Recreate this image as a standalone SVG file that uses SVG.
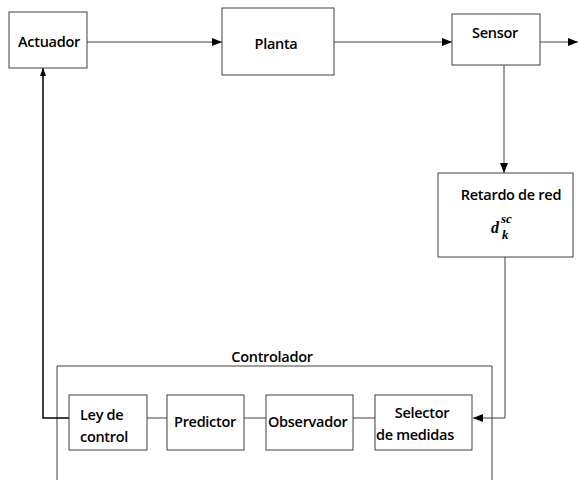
<svg xmlns="http://www.w3.org/2000/svg" width="579" height="480" viewBox="0 0 579 480">
<defs>
<marker id="ah" markerWidth="10" markerHeight="8" refX="10" refY="4" orient="auto" markerUnits="userSpaceOnUse"><path d="M0,0 L10,4 L0,8 Z" fill="#000"/></marker>
<marker id="ahb" markerWidth="8" markerHeight="14" refX="8" refY="4" orient="auto" markerUnits="userSpaceOnUse"><path d="M0,1 L8,4 L0,7 Z" fill="#000"/></marker>
</defs>
<style>
.b{fill:#fff;stroke:#404040;stroke-width:1}
.t{font-family:"Open Sans","Noto Sans",sans-serif;font-size:14.5px;font-weight:600;fill:#000;letter-spacing:-0.3px}
.c{fill:none;stroke:#404040;stroke-width:1}
.m{font-family:"Liberation Serif",serif;font-style:italic;font-weight:bold;fill:#000}
</style>
<rect width="579" height="480" fill="#fff"/>
<g id="controlador">
<path class="c" d="M57,480 V366 H492 V480"/>
<text class="t" x="272" y="362" text-anchor="middle">Controlador</text>
</g>
<g id="connectors">
<line class="c" x1="87" y1="42" x2="222" y2="42" marker-end="url(#ah)"/>
<line class="c" x1="334" y1="42" x2="452" y2="42" marker-end="url(#ah)"/>
<line class="c" x1="540" y1="42" x2="578" y2="42" marker-end="url(#ah)"/>
<line class="c" x1="504" y1="65" x2="504" y2="173" marker-end="url(#ah)"/>
<path class="c" d="M505,257 V418 H473" marker-end="url(#ah)"/>
<line class="c" x1="147" y1="418" x2="167" y2="418"/>
<line class="c" x1="244" y1="418" x2="266" y2="418"/>
<line class="c" x1="353" y1="418" x2="375" y2="418"/>
<path d="M69,418 H43 V68" fill="none" stroke="#000" stroke-width="1.5" marker-end="url(#ahb)"/>
</g>
<g id="actuador"><rect class="b" x="9" y="12" width="78" height="56"/><text class="t" x="49" y="47" text-anchor="middle">Actuador</text></g>
<g id="planta"><rect class="b" x="222" y="8" width="112" height="67"/><text class="t" x="276" y="49" text-anchor="middle">Planta</text></g>
<g id="sensor"><rect class="b" x="452" y="14" width="88" height="51"/><text class="t" x="495" y="38" text-anchor="middle">Sensor</text></g>
<g id="retardo"><rect class="b" x="438" y="173" width="135" height="84"/><text class="t" x="511" y="200" text-anchor="middle">Retardo de red</text>
<text class="m" font-size="16" x="491" y="233">d</text>
<text class="m" font-size="13" x="501" y="223">sc</text>
<text class="m" font-size="13" x="502" y="239">k</text></g>
<g id="ley"><rect class="b" x="69" y="395" width="78" height="55"/><text class="t" x="80" y="420">Ley de</text><text class="t" x="80" y="442">control</text></g>
<g id="predictor"><rect class="b" x="167" y="395" width="77" height="55"/><text class="t" x="205" y="427" text-anchor="middle">Predictor</text></g>
<g id="observador"><rect class="b" x="266" y="395" width="87" height="55"/><text class="t" x="268" y="427">Observador</text></g>
<g id="selector"><rect class="b" x="375" y="395" width="97" height="55"/><text class="t" x="422" y="418" text-anchor="middle">Selector</text><text class="t" x="376" y="440">de medidas</text></g>
</svg>
